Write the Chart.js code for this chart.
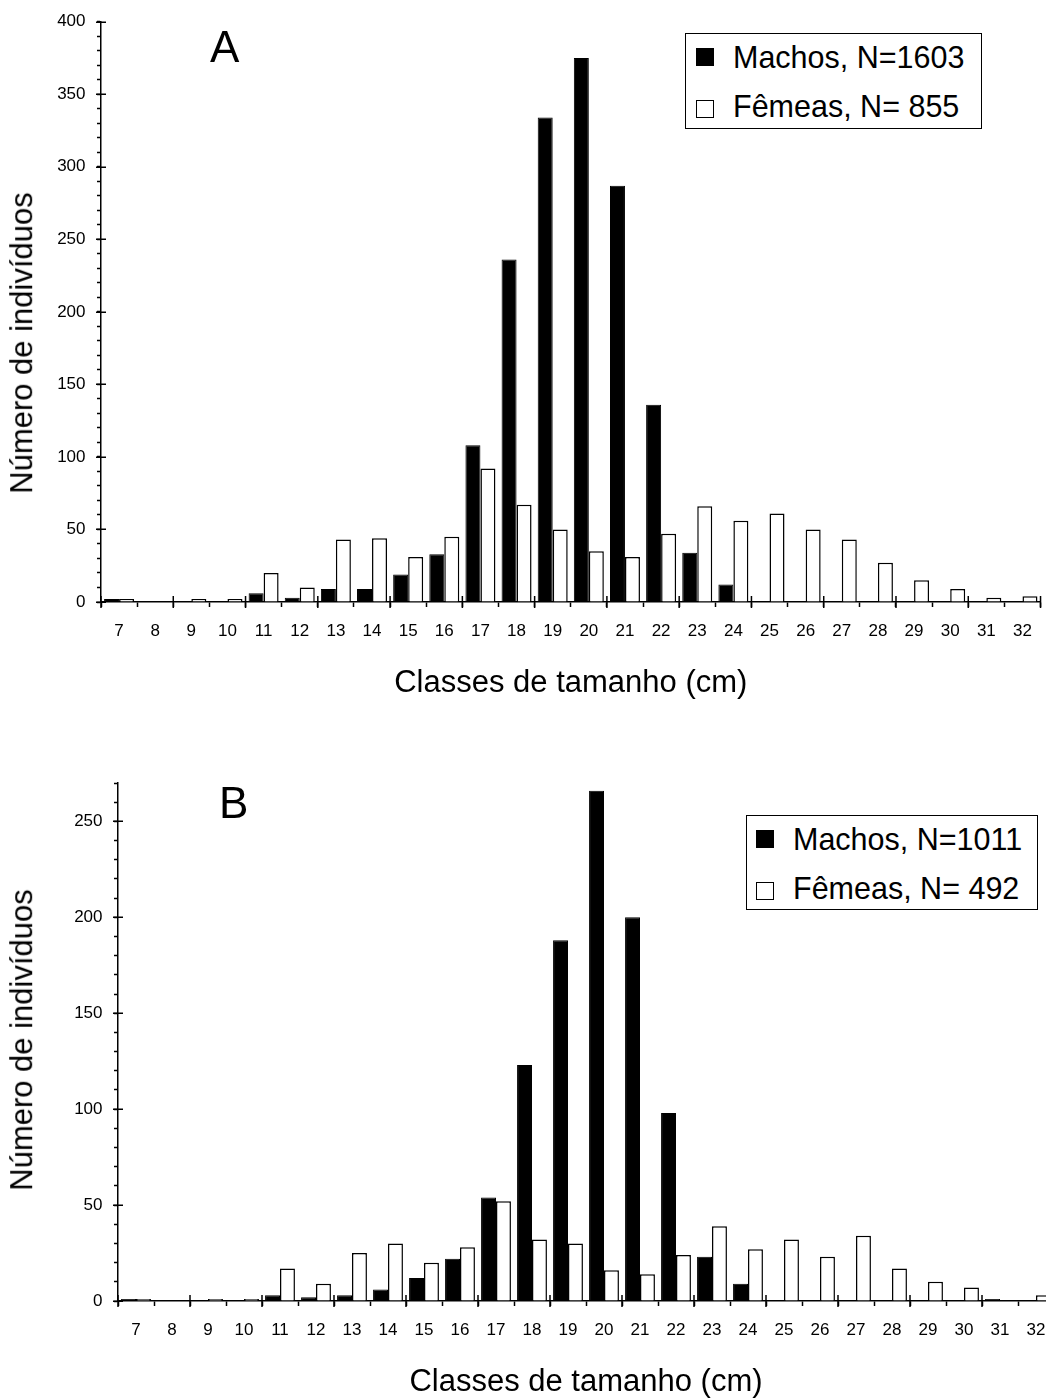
<!DOCTYPE html>
<html>
<head>
<meta charset="utf-8">
<script src="https://cdn.jsdelivr.net/npm/chart.js@4/dist/chart.umd.min.js"></script>
<style>
  html, body { margin:0; padding:0; background:#fff; width:1046px; height:1398px; overflow:hidden; }
  body { position:relative; font-family:"Liberation Sans", Arial, sans-serif; color:#000; }
  canvas { position:absolute; left:0; }
  #cA { top:0; }
  #cB { top:700px; }
  .panel { position:absolute; font-size:44px; line-height:44px; }
  .ytitle { position:absolute; font-size:31px; line-height:1.15; white-space:nowrap; transform:translate(-50%,-50%) rotate(-90deg); }
  .legend { position:absolute; border:1.5px solid #000; box-sizing:border-box; background:#fff; }
  .item { position:absolute; left:0; font-size:30.5px; line-height:30px; white-space:nowrap; }
  .sw { position:absolute; width:18px; height:18px; box-sizing:border-box; border:1.5px solid #000; }
</style>
</head>
<body>
<canvas id="cA" width="1046" height="720"></canvas>
<canvas id="cB" width="1060" height="701"></canvas>
<div class="panel" style="left:210px;top:25px;">A</div>
<div class="panel" style="left:219px;top:781px;">B</div>
<div class="ytitle" style="left:22px;top:343px;">Número de indivíduos</div>
<div class="ytitle" style="left:22px;top:1040px;">Número de indivíduos</div>
<div class="legend" id="legA" style="left:685px;top:33px;width:297px;height:96px;"></div>
<div class="legend" id="legB" style="left:746px;top:815px;width:292px;height:95px;"></div>
<script>
// ---------- DATA ----------
const sizeClasses = ['7','8','9','10','11','12','13','14','15','16','17','18','19','20','21','22','23','24','25','26','27','28','29','30','31','32'];

const machosA = [2,0,0,0,6,3,9,9,19,33,108,236,334,375,287,136,34,12,0,0,0,0,0,0,0,0];
const femeasA = [2,0,2,2,20,10,43,44,31,45,92,67,50,35,31,47,66,56,61,50,43,27,15,9,3,4];
const labelsA = ['Machos, N=1603', 'Fêmeas, N= 855'];

const machosB = [1,0,0,0,3,2,3,6,12,22,54,123,188,266,200,98,23,9,0,0,0,0,0,0,1,0];
const femeasB = [1,0,1,1,17,9,25,30,20,28,52,32,30,16,14,24,39,27,32,23,34,17,10,7,0,3];
const labelsB = ['Machos, N=1011', 'Fêmeas, N= 492'];

const yMaxA = 400;
const yMaxB = 270;
const xTitle = 'Classes de tamanho (cm)';

// ---------- STYLE ----------
const FONT = '"Liberation Sans", Arial, sans-serif';
Chart.defaults.font.family = FONT;
Chart.defaults.color = '#000';

const tickMarks = {
  id: 'tickMarks',
  afterDraw(chart) {
    const {ctx, scales: {x, y}} = chart;
    ctx.save();
    ctx.strokeStyle = '#000';
    ctx.lineWidth = 1.5;
    // major y ticks crossing the axis
    y.ticks.forEach(t => {
      if (t.value % 50 === 0) {
        const py = Math.round(y.getPixelForValue(t.value)) + 0.25;
        ctx.beginPath(); ctx.moveTo(x.left - 5, py); ctx.lineTo(x.left + 5, py); ctx.stroke();
      }
    });
    // long x ticks at every second class boundary, crossing the axis
    const n = x.ticks.length;
    for (let i = 0; i <= n; i += 2) {
      const px = x.getPixelForValue(i - 0.5);
      ctx.beginPath(); ctx.moveTo(px, y.bottom - 6); ctx.lineTo(px, y.bottom + 6); ctx.stroke();
    }
    ctx.restore();
  }
};

function makeChart(id, machos, femeas, labels, yMax, opts) {
  return new Chart(document.getElementById(id), {
    type: 'bar',
    data: {
      labels: sizeClasses,
      datasets: [
        { label: labels[0], data: machos, backgroundColor: '#000', borderColor: '#000', borderWidth: 1 },
        { label: labels[1], data: femeas, backgroundColor: '#fff', borderColor: '#000', borderWidth: 1.5 }
      ]
    },
    options: {
      responsive: false,
      animation: false,
      devicePixelRatio: 1,
      layout: { padding: opts.padding },
      datasets: { bar: { categoryPercentage: 0.83, barPercentage: 1.0 } },
      plugins: { legend: { display: false }, tooltip: { enabled: false } },
      scales: {
        x: {
          type: 'category',
          offset: true,
          afterFit(s) { s.height = 100; },
          grid: { offset: true, drawOnChartArea: false, drawTicks: true, tickLength: 5, tickColor: '#000', tickWidth: 1.5 },
          border: { display: true, color: '#000', width: 1.5 },
          ticks: { font: { size: 17 }, padding: 14, autoSkip: false, maxRotation: 0, color: '#000' },
          title: { display: true, text: xTitle, font: { size: 31, lineHeight: 1.2 }, padding: { top: 0, bottom: 0 }, color: '#000' }
        },
        y: {
          min: 0, max: yMax,
          afterFit(s) { s.width = opts.yWidth; },
          grid: { drawOnChartArea: false, drawTicks: true, tickLength: 4, tickColor: '#000', tickWidth: 1.5 },
          border: { display: true, color: '#000', width: 1.5 },
          ticks: {
            stepSize: 10, maxTicksLimit: 100, autoSkip: false, font: { size: 17 }, padding: 11.5, color: '#000',
            callback: v => (v % 50 === 0 ? String(v) : '')
          }
        }
      }
    },
    plugins: [tickMarks]
  });
}

const chartA = makeChart('cA', machosA, femeasA, labelsA, yMaxA, { padding: { left: 0, top: 21, right: 4, bottom: 18 }, yWidth: 101 });
const chartB = makeChart('cB', machosB, femeasB, labelsB, yMaxB, { padding: { left: 0, top: 83, right: 6, bottom: 0 }, yWidth: 118 });

function buildLegend(el, chart, rows) {
  chart.data.datasets.forEach((ds, i) => {
    const r = rows[i];
    const sw = document.createElement('div');
    sw.className = 'sw';
    sw.style.left = r.sx + 'px'; sw.style.top = r.sy + 'px';
    sw.style.background = ds.backgroundColor;
    el.appendChild(sw);
    const t = document.createElement('div');
    t.className = 'item';
    t.style.left = r.tx + 'px'; t.style.top = r.ty + 'px';
    t.textContent = ds.label;
    el.appendChild(t);
  });
}
buildLegend(document.getElementById('legA'), chartA, [
  { sx: 10, sy: 14, tx: 47, ty: 8 },
  { sx: 10, sy: 66, tx: 47, ty: 57 }
]);
buildLegend(document.getElementById('legB'), chartB, [
  { sx: 9, sy: 14, tx: 46, ty: 8 },
  { sx: 9, sy: 66, tx: 46, ty: 57 }
]);
</script>
</body>
</html>
